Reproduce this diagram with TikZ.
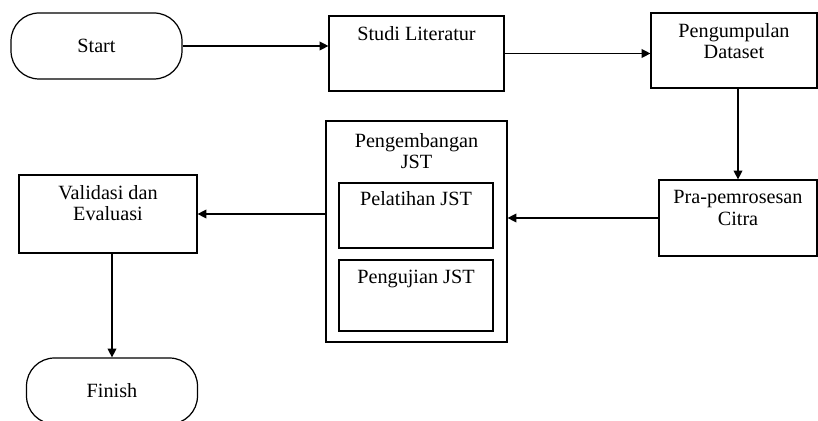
\documentclass[tikz,border=0pt]{standalone}
\usepackage{fontspec}
\setmainfont{Liberation Serif}
\usetikzlibrary{arrows.meta}

\begin{document}
\begin{tikzpicture}[x=0.02cm,y=-0.02cm,line width=0.7pt,
		box/.style={draw, rectangle, inner sep=0pt},
		term/.style={draw, rectangle, rounded corners=0.56cm, inner sep=0pt,
			minimum width=3.42cm, minimum height=1.32cm},
		txt/.style={anchor=north, align=center, yshift=-0.2cm, inner sep=0pt,
			font=\fontsize{11.5}{12.5}\selectfont},
		flow/.style={-{Triangle[length=5pt,width=5pt]}}]
	\useasboundingbox (0,0) rectangle (818,421);
	\tikzset{every node/.append style={font=\fontsize{11.5}{12.5}\selectfont}}

		% top row
		\node [term] (start) at (96.5,46) {Start};
		\node [box, minimum width=3.5cm, minimum height=1.5cm,
			label={[txt]north:Studi Literatur}] (studi) at (416.5,53.5) {};
		\node [box, minimum width=3.32cm, minimum height=1.5cm,
			label={[txt]north:Pengumpulan\\Dataset}] (data) at (734,50.5) {};

		% middle row
		\node [box, minimum width=3.16cm, minimum height=1.52cm,
			label={[txt]north:Pra-pemrosesan\\Citra}] (pra) at (738,218) {};
		\node [box, minimum width=3.62cm, minimum height=4.42cm,
			label={[txt, yshift=-0.04cm]north:Pengembangan\\JST}] (jst) at (416.5,231.5) {};
		\node [box, minimum width=3.08cm, minimum height=1.3cm,
			label={[txt, yshift=0.04cm]north:Pelatihan JST}] (latih) at (416,215.5) {};
		\node [box, minimum width=3.08cm, minimum height=1.42cm,
			label={[txt]north:Pengujian JST}] (uji) at (416,295.5) {};
		\node [box, minimum width=3.56cm, minimum height=1.56cm,
			label={[txt]north:Validasi dan\\Evaluasi}] (val) at (108,214) {};

		% bottom
		\node [term] (fin) at (112,391) {Finish};

		\draw [flow] (start.east) -- (start.east -| studi.west);
		\draw [flow] (studi.east) -- (studi.east -| data.west);
		\draw [flow] (pra.north |- data.south) -- (pra.north);
		\draw [flow] (pra.west) -- (pra.west -| jst.east);
		\draw [flow] (jst.west |- val.east) -- (val.east);
		\draw [flow] (val.south -| fin.north) -- (fin.north);
\end{tikzpicture}
\end{document}
